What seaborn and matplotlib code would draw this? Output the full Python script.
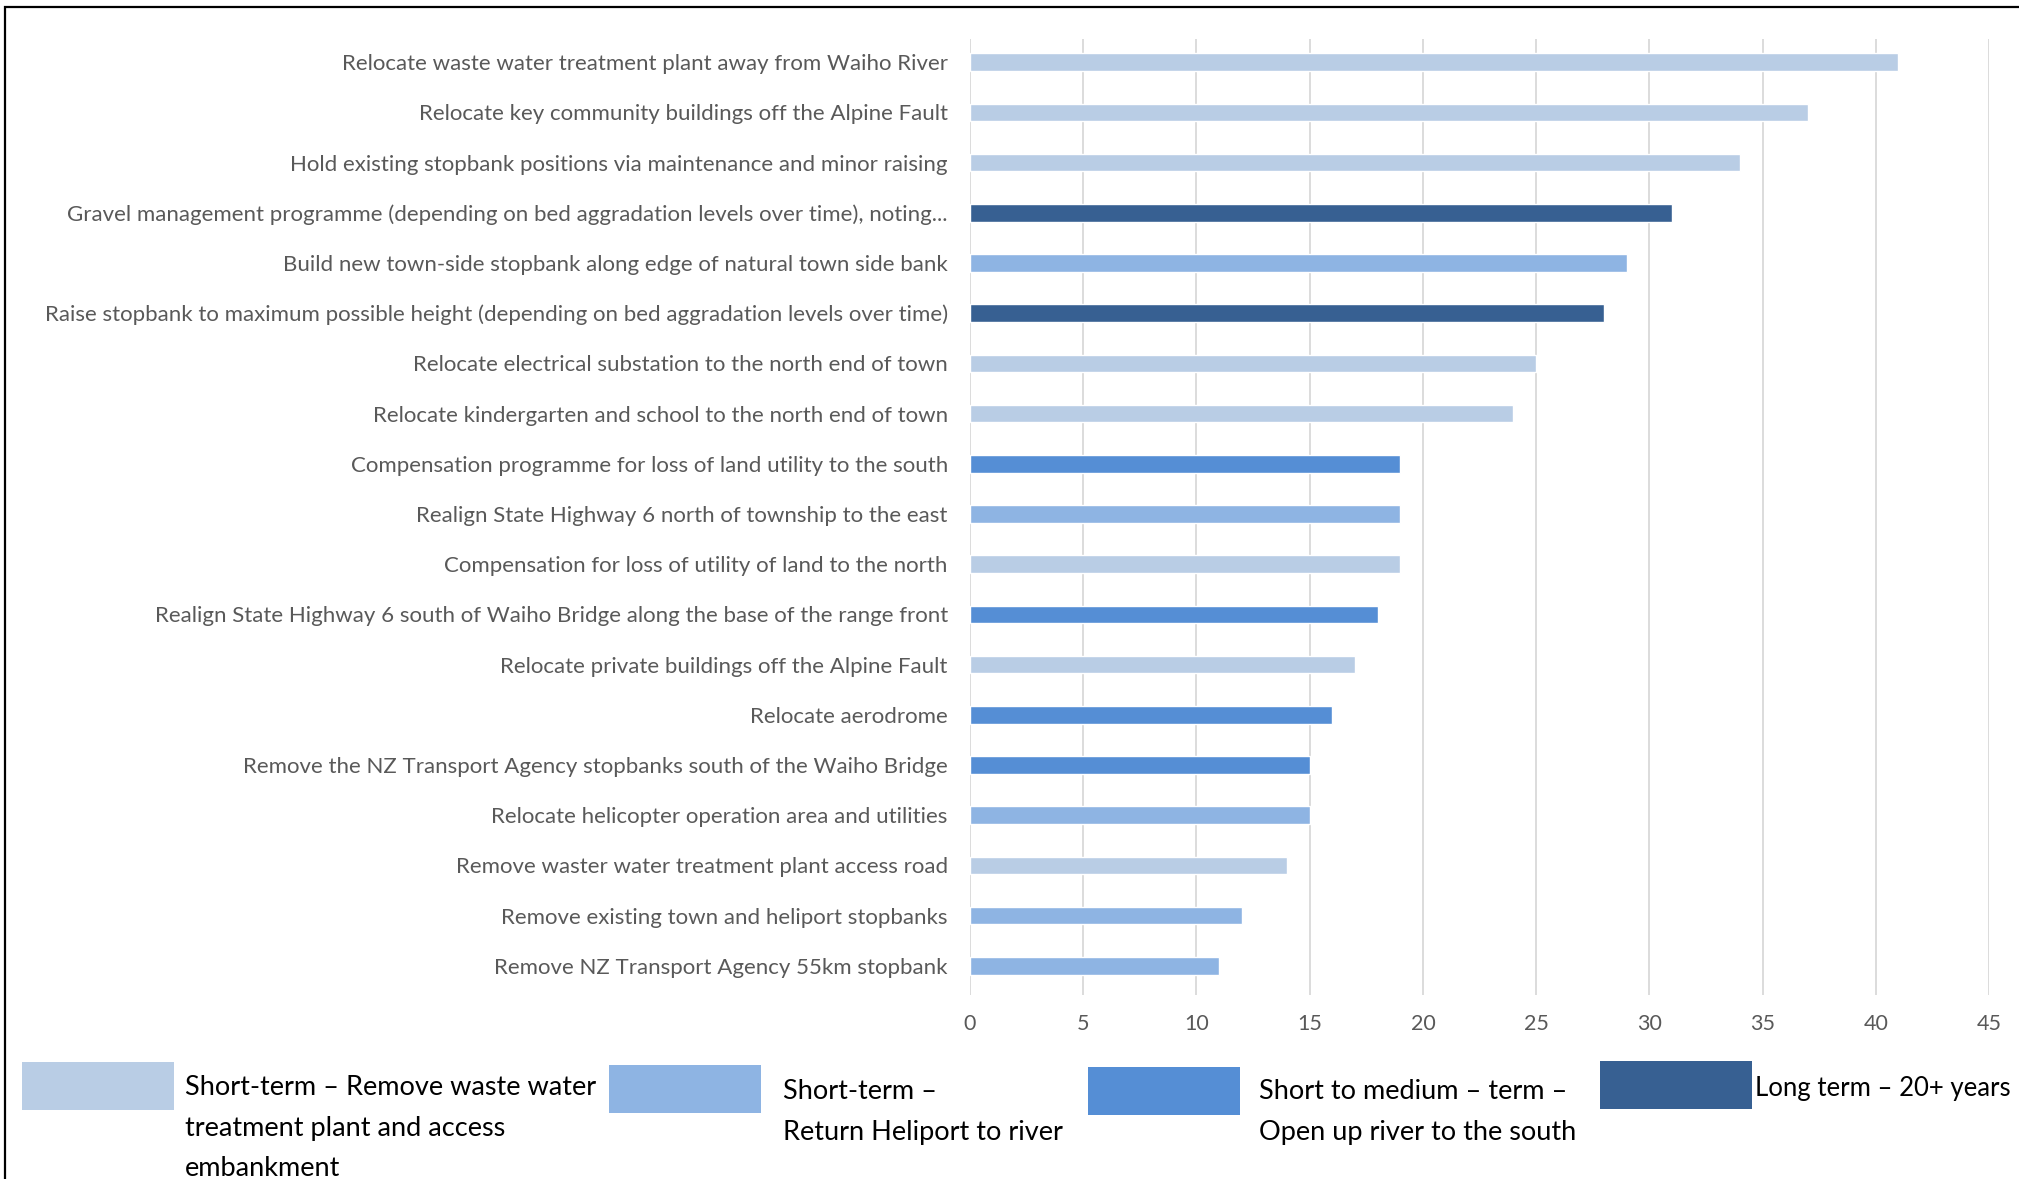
import matplotlib.pyplot as plt
import matplotlib.patches as mpatches
import seaborn as sns
import pandas as pd

# actions, ranked by score (top to bottom)
actions = [
    "Relocate waste water treatment plant away from Waiho River",
    "Relocate key community buildings off the Alpine Fault",
    "Hold existing stopbank positions via maintenance and minor raising",
    "Gravel management programme (depending on bed aggradation levels over time), noting...",
    "Build new town-side stopbank along edge of natural town side bank",
    "Raise stopbank to maximum possible height (depending on bed aggradation levels over time)",
    "Relocate electrical substation to the north end of town",
    "Relocate kindergarten and school to the north end of town",
    "Compensation programme for loss of land utility to the south",
    "Realign State Highway 6 north of township to the east",
    "Compensation for loss of utility of land to the north",
    "Realign State Highway 6 south of Waiho Bridge along the base of the range front",
    "Relocate private buildings off the Alpine Fault",
    "Relocate aerodrome",
    "Remove the NZ Transport Agency stopbanks south of the Waiho Bridge",
    "Relocate helicopter operation area and utilities",
    "Remove waster water treatment plant access road",
    "Remove existing town and heliport stopbanks",
    "Remove NZ Transport Agency 55km stopbank",
]
scores = [41, 37, 34, 31, 29, 28, 25, 24, 19, 19, 19, 18, 17, 16, 15, 15, 14, 12, 11]
phase = ["A", "A", "A", "D", "B", "D", "A", "A", "C", "B",
         "A", "C", "A", "C", "C", "B", "A", "B", "B"]

phase_names = {
    "A": "Short-term \u2013 Remove waste water\ntreatment plant and access\nembankment",
    "B": "Short-term \u2013\nReturn Heliport to river",
    "C": "Short to medium \u2013 term \u2013\nOpen up river to the south",
    "D": "Long term \u2013 20+ years",
}
phase_colors = {"A": "#B9CDE5", "B": "#8EB4E3", "C": "#558ED5", "D": "#376092"}

df = pd.DataFrame({"Action": actions, "Score": scores, "Phase": phase})

sns.set_style("white")
plt.rcParams['font.family'] = ['Lato', 'DejaVu Sans']

fig = plt.figure(figsize=(20.19, 11.79), dpi=100)
ax = fig.add_axes([970 / 2019, 1 - 995 / 1179, (1989 - 970) / 2019, (995 - 39) / 1179])

sns.barplot(data=df, y="Action", x="Score", hue="Phase", palette=phase_colors,
            dodge=False, width=0.35, legend=False, ax=ax, order=actions,
            saturation=1)

ax.set_xlim(0, 45)
ax.set_ylim(18.58, -0.46)
ax.set_xticks(range(0, 46, 5))
ax.xaxis.grid(True, color="#D9D9D9", linewidth=1.3)
ax.set_axisbelow(True)
for s in ax.spines.values():
    s.set_visible(False)
ax.set_xlabel("")
ax.set_ylabel("")
ax.tick_params(axis="y", length=0, pad=16, labelsize=16, labelcolor="#595959")
ax.tick_params(axis="x", length=0, pad=14, labelsize=15.5, labelcolor="#595959")

# legend built by hand at the bottom
W, H = 2019, 1179
legend_spec = [
    ("A", (22, 1062), (185, 1084), 19.5),
    ("B", (609, 1065), (783, 1088), 19.5),
    ("C", (1088, 1067), (1259, 1088), 19.5),
    ("D", (1600, 1061), (1755, 1085), 18.5),
]
for key, (px, py), (tx, ty), fs in legend_spec:
    fig.add_artist(mpatches.Rectangle((px / W, 1 - (py + 48) / H), 152 / W, 48 / H,
                                      transform=fig.transFigure,
                                      facecolor=phase_colors[key], edgecolor="none"))
    fig.text(tx / W, 1 - (ty - 9) / H, phase_names[key], ha="left", va="top",
             fontsize=fs, color="black", linespacing=1.78)

# frame around the chart
fig.add_artist(mpatches.Rectangle((5 / W, -0.02), 1.05, 1 - 7 / H + 0.02,
                                  transform=fig.transFigure, fill=False,
                                  edgecolor="black", linewidth=1.6))

fig.savefig("out.png", dpi=100)
